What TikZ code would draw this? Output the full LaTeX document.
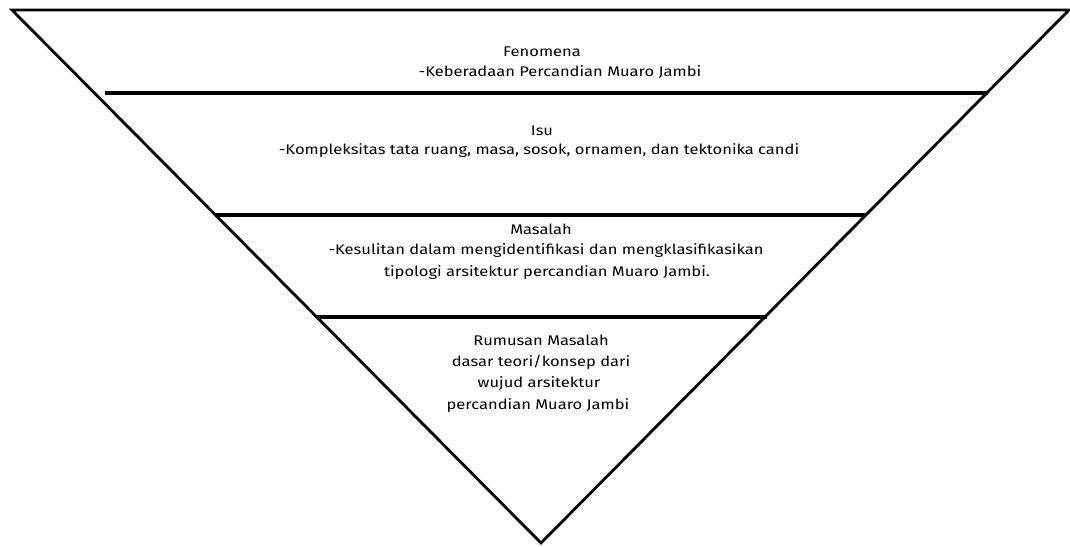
\documentclass[tikz,border=0pt]{standalone}
\usepackage{fontspec}
\setmainfont{Fira Sans}[FakeStretch=1.18]
\begin{document}
\begin{tikzpicture}[x=1pt,y=1pt,
  edge/.style={line width=2.8pt,line join=miter},
  layer/.style={line width=3.2pt},
  txt/.style={inner sep=0pt,anchor=center,font=\fontsize{14}{16}\selectfont}]
\useasboundingbox (0,0) rectangle (1070,546);
% funnel outline
\coordinate (tl) at (12,536);
\coordinate (tr) at (1069,536);
\coordinate (ap) at (541,3);
\draw[edge] (tl) -- (tr) -- (ap) -- cycle;
% layer dividers
\coordinate (a1) at (105,453); \coordinate (b1) at (988,453);
\coordinate (a2) at (216,331); \coordinate (b2) at (866,331);
\coordinate (a3) at (317,229); \coordinate (b3) at (767,229);
\draw[layer] (a1) -- (b1);
\draw[layer] (a2) -- (b2);
\draw[layer] (a3) -- (b3);
% texts
\node[txt] (f1) at (542,494) {Fenomena};
\node[txt] (f2) at (560,474) {-Keberadaan Percandian Muaro Jambi};
\node[txt] (i1) at (542,415) {Isu};
\node[txt] (i2) at (539,395) {-Kompleksitas tata ruang, masa, sosok, ornamen, dan tektonika candi};
\node[txt] (m1) at (541,317) {Masalah};
\node[txt] (m2) at (546,295) {-Kesulitan dalam mengidentifikasi dan mengklasifikasikan};
\node[txt] (m3) at (547,273) {tipologi arsitektur percandian Muaro Jambi.};
\node[txt] (r1) at (541,206) {Rumusan Masalah};
\node[txt] (r2) at (541,184) {dasar teori/konsep dari};
\node[txt] (r3) at (539,162) {wujud arsitektur};
\node[txt] (r4) at (538,140) {percandian Muaro Jambi};
\end{tikzpicture}
\end{document}
